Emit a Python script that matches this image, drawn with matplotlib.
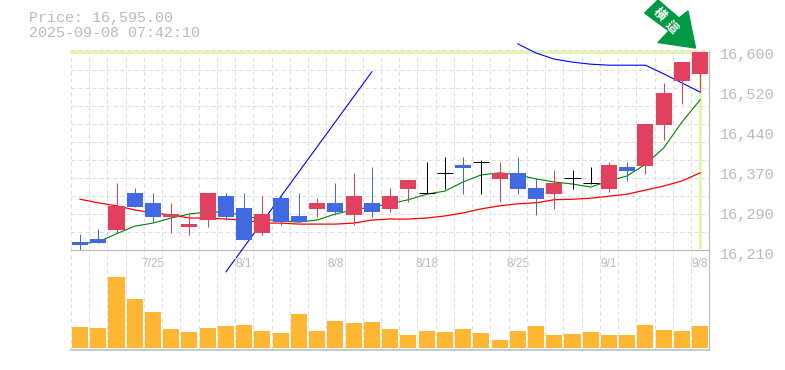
import numpy as np
import matplotlib
matplotlib.use("Agg")
import matplotlib.pyplot as plt
from matplotlib.patches import Polygon

W, H = 785, 370
LEFT, RIGHT = 70.9, 709.3
TOP, MID, BOT = 52, 250, 350

highs = [16242, 16251, 16342, 16332, 16322, 16303, 16281, 16322, 16322, 16322, 16316, 16316,
         16322, 16312, 16342, 16362, 16374, 16332, 16348, 16383, 16393, 16393, 16387, 16383,
         16393, 16352, 16368, 16368, 16374, 16383, 16383, 16458, 16539, 16580, 16600]
lows = [16210, 16224, 16243, 16295, 16265, 16243, 16240, 16255, 16269, 16230, 16240, 16259,
        16265, 16275, 16279, 16259, 16275, 16285, 16305, 16320, 16330, 16320, 16320, 16305,
        16320, 16279, 16291, 16330, 16340, 16324, 16346, 16360, 16427, 16498, 16521]
opens = [16226, 16232, 16249, 16322, 16303, 16275, 16255, 16269, 16316, 16293, 16243, 16312,
         16277, 16291, 16303, 16279, 16303, 16291, 16330, 16322, 16362, 16377, 16383, 16350,
         16362, 16332, 16320, 16352, 16342, 16330, 16374, 16375, 16456, 16543, 16557]
closes = [16220, 16224, 16297, 16295, 16275, 16281, 16261, 16322, 16275, 16230, 16281, 16265,
          16265, 16303, 16285, 16316, 16285, 16316, 16348, 16322, 16362, 16372, 16383, 16362,
          16330, 16310, 16342, 16352, 16342, 16377, 16366, 16458, 16519, 16580, 16600]
ma_green = [16222, 16226, 16242, 16257, 16263, 16273, 16281, 16285, 16285, 16277, 16271, 16267,
            16265, 16269, 16281, 16289, 16295, 16301, 16309, 16320, 16326, 16344, 16358, 16362,
            16358, 16350, 16344, 16340, 16334, 16346, 16356, 16379, 16411, 16462, 16506]
ma_red = [16310, 16303, 16297, 16289, 16283, 16279, 16273, 16273, 16271, 16269, 16263, 16263,
          16261, 16261, 16261, 16263, 16269, 16271, 16271, 16273, 16277, 16283, 16291, 16297,
          16301, 16303, 16309, 16310, 16312, 16316, 16320, 16328, 16336, 16346, 16362]
blue_a_x = [8, 16]
blue_a = [16167, 16561]
blue_b_x = [24, 25, 26, 27, 28, 29, 30, 31, 32, 33, 34]
blue_b = [16616, 16598, 16586, 16580, 16576, 16574, 16574, 16574, 16557, 16539, 16521]
volumes = [21, 20, 71, 49, 36, 19, 16, 20, 22, 23, 17, 15, 34, 17, 27, 25, 26, 19,
           13, 17, 16, 19, 15, 8, 17, 22, 13, 14, 16, 13, 13, 23, 18, 17, 22]
date_pos = [4, 9, 14, 19, 24, 29, 34]
date_labels = ["7/25", "8/1", "8/8", "8/18", "8/25", "9/1", "9/8"]
price_ticks = np.linspace(16210, 16600, 6)

RED = "#e2405f"
BLUE = "#4169e1"
GRID = "#dddddd"
AXIS = "#bbbbbb"
BAND = "#e4f4a8"
MONO = "Liberation Mono"
PX = 0.72
DASH = (0, (4, 3))


def make_axes(y_top, y_bot):
    return fig.add_axes([LEFT / W, 1 - y_bot / H, (RIGHT - LEFT) / W, (y_bot - y_top) / H])


fig = plt.figure(figsize=(W / 100, H / 100), dpi=100)

ax = make_axes(TOP, MID)
ax.set_xlim(-0.5, 34.5)
ax.set_ylim(16210, 16600)
ax.set_facecolor("none")
for s in ax.spines.values():
    s.set_visible(False)
ax.spines["bottom"].set_visible(True)
ax.spines["bottom"].set_color(AXIS)
ax.spines["bottom"].set_linewidth(PX * 1.2)
ax.spines["right"].set_visible(True)
ax.spines["right"].set_color(AXIS)
ax.spines["right"].set_linewidth(PX * 1.2)

for x in np.arange(-0.5, 35):
    ax.axvline(x, color=GRID, lw=PX, ls=DASH, zorder=1)
for y in np.linspace(16210, 16600, 12)[1:-1]:
    ax.axhline(y, color=GRID, lw=PX, ls=DASH, zorder=1)

# current price band
ax.axhline(16600, color=BAND, lw=2.2, zorder=2, clip_on=False)
ax.plot([-0.5, 34.5], [16603, 16603], color=GRID, lw=PX, ls=DASH, zorder=2, clip_on=False)
ax.bar(34, 388, 0.16, bottom=16212, color=BAND, zorder=2)

ax.plot(range(35), ma_green, color="green", lw=0.8, zorder=3)
ax.plot(range(35), ma_red, color="red", lw=0.9, zorder=3)
ax.plot(blue_a_x, blue_a, color="blue", lw=0.8, zorder=3, clip_on=False)
ax.plot(blue_b_x, blue_b, color="blue", lw=0.8, zorder=3, clip_on=False)

for i in range(35):
    if closes[i] > opens[i]:
        c = RED
    elif closes[i] < opens[i]:
        c = BLUE
    else:
        c = "black"
    ax.plot([i, i], [lows[i], highs[i]], color=c, lw=PX, zorder=4, solid_capstyle="butt")
    if c == "black":
        ax.plot([i - 0.44, i + 0.44], [opens[i], opens[i]], color=c, lw=PX, zorder=4,
                solid_capstyle="butt")
    else:
        ax.bar(i, abs(closes[i] - opens[i]), 0.88, bottom=min(opens[i], closes[i]), color=c, zorder=5)

ax.set_yticks([])
ax.set_xticks(date_pos)
ax.set_xticklabels(date_labels, fontsize=8.6, color=AXIS, family="Liberation Sans")
ax.tick_params(axis="x", length=0, pad=5.5)

ax_vol = make_axes(MID, BOT)
ax_vol.set_xlim(-0.5, 34.5)
ax_vol.set_ylim(-2, 98)
ax_vol.set_facecolor("none")
for s in ax_vol.spines.values():
    s.set_visible(False)
ax_vol.spines["bottom"].set_visible(True)
ax_vol.spines["bottom"].set_color(AXIS)
ax_vol.spines["bottom"].set_linewidth(1.1)
ax_vol.spines["right"].set_visible(True)
ax_vol.spines["right"].set_color(AXIS)
ax_vol.spines["right"].set_linewidth(PX * 1.2)
for x in np.arange(-0.5, 35):
    ax_vol.axvline(x, color=GRID, lw=PX, ls=DASH, zorder=1)
ax_vol.bar(range(35), volumes, 0.88, color="#ffb733", zorder=3)
ax_vol.set_xticks([])
ax_vol.set_yticks([])

# price labels sit on their own 40 px spacing
ax_lab = make_axes(53, 253)
ax_lab.set_ylim(16210, 16600)
ax_lab.patch.set_visible(False)
for s in ax_lab.spines.values():
    s.set_visible(False)
ax_lab.set_xticks([])
ax_lab.yaxis.tick_right()
ax_lab.set_yticks(price_ticks)
ax_lab.set_yticklabels([f"{round(v, -1):,.0f}" for v in price_ticks], fontsize=11, color=AXIS, family=MONO)
ax_lab.tick_params(axis="y", length=0, pad=8)

fig.text(29 / W, 1 - 18 / H, "Price: 16,595.00", fontsize=10.8, color=AXIS, family=MONO, va="center")
fig.text(29 / W, 1 - 33 / H, "2025-09-08 07:42:10", fontsize=10.8, color=AXIS, family=MONO, va="center")

# arrow marker, in pixel coordinates of the figure
arrow_px = [(644.7, 13), (658, 0), (679, 18), (688, 11), (695.5, 48), (658, 42.5), (669, 31)]
arrow = Polygon([(x / W, 1 - y / H) for x, y in arrow_px], closed=True, color="#009944",
                transform=fig.transFigure, zorder=10)
fig.add_artist(arrow)
fig.text(659 / W, 1 - 14 / H, "横", fontsize=9, color="white", rotation=-45, ha="center", va="center",
         family="Noto Sans CJK JP", fontweight="bold", zorder=11)
fig.text(671 / W, 1 - 27 / H, "這", fontsize=9, color="white", rotation=-45, ha="center", va="center",
         family="Noto Sans CJK JP", fontweight="bold", zorder=11)

fig.savefig("out.png", dpi=100)
